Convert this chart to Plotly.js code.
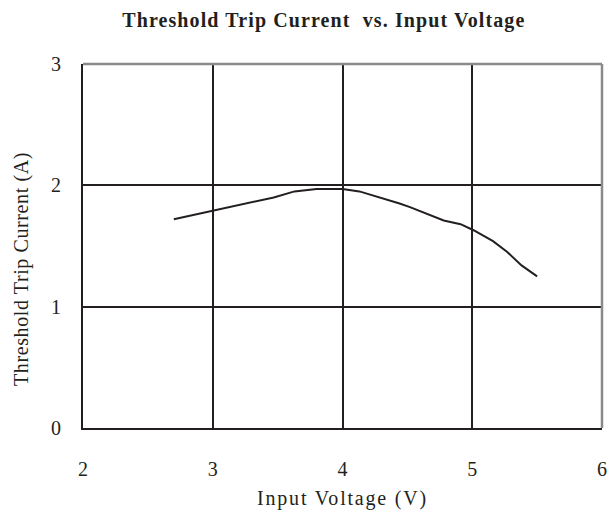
<!DOCTYPE html>
<html>
<head>
<meta charset="utf-8">
<script src="https://cdn.plot.ly/plotly-3.0.1.min.js"></script>
<style>
html,body{margin:0;padding:0;background:#fff;}
#chart{width:609px;height:518px;}
.gtitle{letter-spacing:1.1px;}
.xtitle{letter-spacing:1.8px;}
.annotation-text{letter-spacing:0.6px;}
</style>
</head>
<body>
<div id="chart"></div>
<script>
// Data
const inputVoltage = [2.7, 3.0, 3.47, 3.63, 3.8, 4.0, 4.13, 4.44, 4.52, 4.78, 4.91, 5.01, 5.16, 5.27, 5.38, 5.5];
const tripCurrent  = [1.72, 1.79, 1.90, 1.95, 1.97, 1.97, 1.95, 1.85, 1.82, 1.71, 1.68, 1.63, 1.54, 1.45, 1.34, 1.25];
const xTicks = [2, 3, 4, 5, 6];
const yTicks = [0, 1, 2, 3];

const ink = '#231f20';
const fontFam = '"Liberation Serif", "Times New Roman", serif';

const trace = {
  x: inputVoltage,
  y: tripCurrent,
  type: 'scatter',
  mode: 'lines',
  line: {color: ink, width: 2},
  hoverinfo: 'skip'
};

const layout = {
  width: 609,
  height: 518,
  paper_bgcolor: '#fff',
  plot_bgcolor: '#fff',
  showlegend: false,
  margin: {l: 83, r: 7, t: 64, b: 90},
  font: {family: fontFam, color: ink, size: 20},
  title: {
    text: '<b>Threshold Trip Current  vs. Input Voltage</b>',
    font: {family: fontFam, size: 20, color: ink},
    x: 0.464, xref: 'paper', xanchor: 'center',
    y: 0.962, yref: 'container', yanchor: 'middle'
  },
  xaxis: {
    range: [2, 6],
    tickvals: xTicks,
    ticktext: xTicks.map(String),
    showgrid: true,
    gridcolor: ink,
    gridwidth: 2,
    showline: true,
    linecolor: ink,
    linewidth: 2,
    zeroline: false,
    ticks: '',
    ticklabelstandoff: 22,
    tickfont: {family: fontFam, size: 20, color: ink},
    title: {text: 'Input Voltage (V)', font: {family: fontFam, size: 20, color: ink}, standoff: 12},
    fixedrange: true
  },
  yaxis: {
    range: [0, 3],
    tickvals: yTicks,
    ticktext: yTicks.map(String),
    showgrid: true,
    gridcolor: ink,
    gridwidth: 2,
    showline: true,
    linecolor: ink,
    linewidth: 2,
    zeroline: false,
    ticks: '',
    ticklabelstandoff: 16,
    tickfont: {family: fontFam, size: 20, color: ink},
    fixedrange: true
  },
  annotations: [{
    text: 'Threshold Trip Current (A)',
    xref: 'paper', yref: 'paper',
    x: -0.1175, y: 0.437,
    xanchor: 'center', yanchor: 'middle',
    textangle: -90,
    showarrow: false,
    font: {family: fontFam, size: 20, color: ink}
  }],
  shapes: [
    {type: 'line', xref: 'paper', yref: 'paper', x0: 0, x1: 1, y0: 1, y1: 1, line: {color: '#8a8a8a', width: 2.5}, layer: 'above'},
    {type: 'line', xref: 'paper', yref: 'paper', x0: 1, x1: 1, y0: 0, y1: 1, line: {color: '#8a8a8a', width: 2.5}, layer: 'above'}
  ]
};

Plotly.newPlot('chart', [trace], layout, {displayModeBar: false, staticPlot: true});
</script>
</body>
</html>
